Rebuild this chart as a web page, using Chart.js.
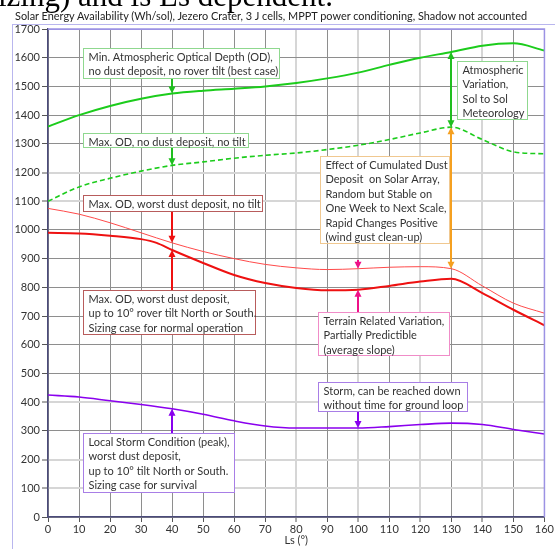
<!DOCTYPE html>
<html>
<head>
<meta charset="utf-8">
<script src="https://cdn.jsdelivr.net/npm/chart.js@4/dist/chart.umd.min.js"></script>
<style>
  html, body { margin: 0; padding: 0; background: #fff; overflow: hidden; }
  #wrap { position: relative; width: 555px; height: 549px; overflow: hidden; }
  #doc { position: absolute; left: -2px; top: -22px; font: 31px "Liberation Serif", serif; color: #000; white-space: nowrap; }
  #title { position: absolute; left: 15px; top: 9px; font: 11px Lato, sans-serif; color: #222; white-space: nowrap; }
  canvas { position: absolute; left: 0; top: 0; }
</style>
</head>
<body>
<div id="wrap">
  <canvas id="chart" width="555" height="549"></canvas>
  <div id="doc">izing) and is Ls dependent.</div>
  <span id="title">Solar Energy Availability (Wh/sol), Jezero Crater, 3 J cells, MPPT power conditioning, Shadow not accounted</span>
</div>
<script>
/* ---------- data (Wh/sol vs Ls) ---------- */
const ls = [0, 10, 20, 30, 40, 50, 60, 70, 80, 90, 100, 110, 120, 130, 140, 150, 160];
const minOD      = [1360, 1400, 1432, 1457, 1475, 1485, 1492, 1500, 1512, 1528, 1548, 1575, 1600, 1620, 1642, 1650, 1625];
const maxOD      = [1100, 1150, 1180, 1205, 1225, 1237, 1250, 1260, 1268, 1280, 1295, 1315, 1338, 1358, 1315, 1272, 1265];
const worstDust  = [1075, 1055, 1025, 990, 955, 925, 900, 880, 868, 862, 865, 870, 872, 865, 805, 745, 710];
const lsTilt     = [0, 10, 20, 30, 35, 40, 50, 60, 70, 80, 90, 100, 110, 120, 130, 140, 150, 160];
const worstTilt  = [990, 988, 980, 968, 955, 930, 885, 843, 815, 798, 790, 792, 805, 820, 830, 780, 722, 668];
const storm      = [425, 418, 405, 392, 377, 358, 335, 317, 310, 310, 310, 315, 322, 327, 322, 305, 289];

const xTicks = [0, 10, 20, 30, 40, 50, 60, 70, 80, 90, 100, 110, 120, 130, 140, 150, 160];
const yTicks = [0, 100, 200, 300, 400, 500, 600, 700, 800, 900, 1000, 1100, 1200, 1300, 1400, 1500, 1600, 1700];

const pts = (xs, ys) => xs.map((v, i) => ({ x: v, y: ys[i] }));
const at = (xs, ys, v) => ys[xs.indexOf(v)];

// title should span roughly 513px like the original
const titleEl = document.getElementById("title");
titleEl.style.fontSize = (11 * 513 / titleEl.getBoundingClientRect().width).toFixed(2) + "px";

/* ---------- annotation boxes (data units) ---------- */
const boxes = [
  { lines: ["Min. Atmospheric Optical Depth (OD),", "no dust deposit, no rover tilt (best case)"],
    x0: 11.3, x1: 74.4, y0: 1634, y1: 1529, border: "#8fd88f" },
  { lines: ["Max. OD, no dust deposit, no tilt"],
    x0: 11.3, x1: 64.4, y0: 1337, y1: 1289, border: "#8fd88f" },
  { lines: ["Max. OD, worst dust deposit, no tilt"],
    x0: 11.3, x1: 68.9, y0: 1122, y1: 1066, border: "#b85c5c" },
  { lines: ["Max. OD, worst dust deposit,", "up to 10\u00b0 rover tilt North or South.", "Sizing case for normal operation"],
    x0: 11.3, x1: 66.6, y0: 791, y1: 637, border: "#b85c5c" },
  { lines: ["Atmospheric", "Variation,", "Sol to Sol", "Meteorology"],
    x0: 131.7, x1: 154.5, y0: 1588, y1: 1386, border: "#8fd88f" },
  { lines: ["Effect of Cumulated Dust", "Deposit  on Solar Array,", "Random but Stable on", "One Week to Next Scale,", "Rapid Changes Positive", "(wind gust clean-up)"],
    x0: 87.6, x1: 129.1, y0: 1257, y1: 954, border: "#f0c890" },
  { lines: ["Terrain Related Variation,", "Partially Predictible", "(average slope)"],
    x0: 86.9, x1: 129.1, y0: 714, y1: 564, border: "#f08cc8" },
  { lines: ["Storm, can be reached down", "without time for ground loop"],
    x0: 86.9, x1: 135.2, y0: 470, y1: 369, border: "#a87ee6" },
  { lines: ["Local Storm Condition (peak),", "worst dust deposit,", "up to 10\u00b0 tilt North or South.", "Sizing case for survival"],
    x0: 11.3, x1: 59.9, y0: 293, y1: 87, border: "#a87ee6" }
];

const arrows = [
  { ls: 40, from: 1529, to: at(ls, minOD, 40), color: "#1fbf1f" },
  { ls: 40, from: 1289, to: at(ls, maxOD, 40), color: "#1fbf1f" },
  { ls: 40, from: 1066, to: at(ls, worstDust, 40), color: "#ee1111" },
  { ls: 40, from: 791, to: at(lsTilt, worstTilt, 40), color: "#ee1111" },
  { ls: 130, from: at(ls, maxOD, 130), to: at(ls, minOD, 130), color: "#1fbf1f", both: true },
  { ls: 130, from: at(ls, worstDust, 130), to: at(ls, maxOD, 130), color: "#f5a020", both: true },
  { ls: 100, from: 895, to: at(ls, worstDust, 100), color: "#ee1188" },
  { ls: 100, from: 714, to: at(lsTilt, worstTilt, 100), color: "#ee1188" },
  { ls: 100, from: 369, to: at(ls, storm, 100), color: "#8800ee" },
  { ls: 40, from: 293, to: at(ls, storm, 40), color: "#8800ee" }
];

const lightX = [80, 100, 120, 140];
const lightY = [100, 200, 400, 1100, 1200];
const FONT = "Lato, sans-serif";

function head(ctx, x, y, dir) {
  ctx.beginPath();
  ctx.moveTo(x, y);
  ctx.lineTo(x - 3.5, y - dir * 7);
  ctx.lineTo(x + 3.5, y - dir * 7);
  ctx.closePath();
  ctx.fill();
}

const notesPlugin = {
  id: "notes",
  beforeDraw(chart) {
    const ctx = chart.ctx;
    ctx.save();
    ctx.fillStyle = "#fff";
    ctx.fillRect(0, 0, chart.width, chart.height);
    ctx.strokeStyle = "#b9b6ee";
    ctx.lineWidth = 1;
    ctx.strokeRect(12.5, 24.5, 700, 700);
    ctx.restore();
  },
  afterDatasetsDraw(chart) {
    const { ctx, chartArea: a, scales: { x, y } } = chart;
    ctx.save();
    // plot frame top/right
    ctx.strokeStyle = "#9c92e4";
    ctx.lineWidth = 1.5;
    ctx.beginPath();
    ctx.moveTo(a.left, a.top);
    ctx.lineTo(a.right, a.top);
    ctx.lineTo(a.right, a.bottom);
    ctx.stroke();

    arrows.forEach(ar => {
      const px = Math.round(x.getPixelForValue(ar.ls));
      const y0 = y.getPixelForValue(ar.from);
      const y1 = y.getPixelForValue(ar.to);
      const dir = y1 > y0 ? 1 : -1;
      ctx.strokeStyle = ar.color;
      ctx.fillStyle = ar.color;
      ctx.lineWidth = 2;
      ctx.beginPath();
      ctx.moveTo(px, y0 + (ar.both ? dir * 6 : 0));
      ctx.lineTo(px, y1 - dir * 6);
      ctx.stroke();
      head(ctx, px, y1, dir);
      if (ar.both) head(ctx, px, y0, -dir);
    });

    ctx.font = "11px " + FONT;
    ctx.textBaseline = "alphabetic";
    boxes.forEach(b => {
      const l = Math.round(x.getPixelForValue(b.x0)) + 0.5;
      const r = Math.round(x.getPixelForValue(b.x1)) + 0.5;
      const t = Math.round(y.getPixelForValue(b.y0)) + 0.5;
      const bt = Math.round(y.getPixelForValue(b.y1)) + 0.5;
      ctx.fillStyle = "#fff";
      ctx.fillRect(l, t, r - l, bt - t);
      ctx.strokeStyle = b.border;
      ctx.lineWidth = 1;
      ctx.strokeRect(l, t, r - l, bt - t);
      ctx.fillStyle = "#333";
      b.lines.forEach((s, i) => ctx.fillText(s, l + 5, t + 12 + i * 14.5));
    });
    ctx.restore();
  }
};

new Chart(document.getElementById("chart"), {
  type: "line",
  data: {
    datasets: [
      { data: pts(ls, minOD), borderColor: "#1ccc1c", borderWidth: 2 },
      { data: pts(ls, maxOD), borderColor: "#1ccc1c", borderWidth: 1.6, borderDash: [5, 3] },
      { data: pts(ls, worstDust), borderColor: "#ff4a4a", borderWidth: 1 },
      { data: pts(lsTilt, worstTilt), borderColor: "#ee1111", borderWidth: 2 },
      { data: pts(ls, storm), borderColor: "#8a00ee", borderWidth: 1.6 }
    ]
  },
  options: {
    responsive: false,
    animation: false,
    devicePixelRatio: 1,
    layout: { padding: { top: 29, right: 10, left: 0, bottom: 0 } },
    elements: {
      point: { radius: 0 },
      line: { cubicInterpolationMode: "monotone", fill: false }
    },
    plugins: { legend: { display: false }, tooltip: { enabled: false }, title: { display: false } },
    scales: {
      x: {
        type: "linear", min: 0, max: 160,
        afterFit: s => { s.height = 32; },
        afterBuildTicks: s => { s.ticks = xTicks.map(v => ({ value: v })); },
        ticks: { color: "#333", font: { family: FONT, size: 11 }, padding: 1, maxRotation: 0, callback: v => String(v) },
        grid: {
          color: c => c.tick && c.tick.value === 160 ? "#9c92e4" : (c.tick && lightX.includes(c.tick.value) ? "#d6d6d6" : "#8e8e8e"),
          lineWidth: c => c.tick && lightX.includes(c.tick.value) ? 2 : 1,
          tickColor: "#555", tickWidth: 1, tickLength: 5
        },
        border: { color: "#4b4b7a", width: 1.5 },
        title: { display: true, text: "Ls (\u00b0)", color: "#333", font: { family: FONT, size: 11 }, padding: { top: 0, bottom: 2 } }
      },
      y: {
        min: 0, max: 1700,
        afterFit: s => { s.width = 48; },
        afterBuildTicks: s => { s.ticks = yTicks.map(v => ({ value: v })); },
        ticks: { color: "#333", font: { family: FONT, size: 11 }, padding: 2, callback: v => String(v) },
        grid: {
          color: c => c.tick && c.tick.value === 1700 ? "#9c92e4" : (c.tick && lightY.includes(c.tick.value) ? "#d6d6d6" : "#8e8e8e"),
          lineWidth: c => c.tick && lightY.includes(c.tick.value) ? 2 : 1,
          tickColor: "#555", tickWidth: 1, tickLength: 6
        },
        border: { color: "#4b4b7a", width: 1.5 }
      }
    }
  },
  plugins: [notesPlugin]
});
</script>
</body>
</html>
